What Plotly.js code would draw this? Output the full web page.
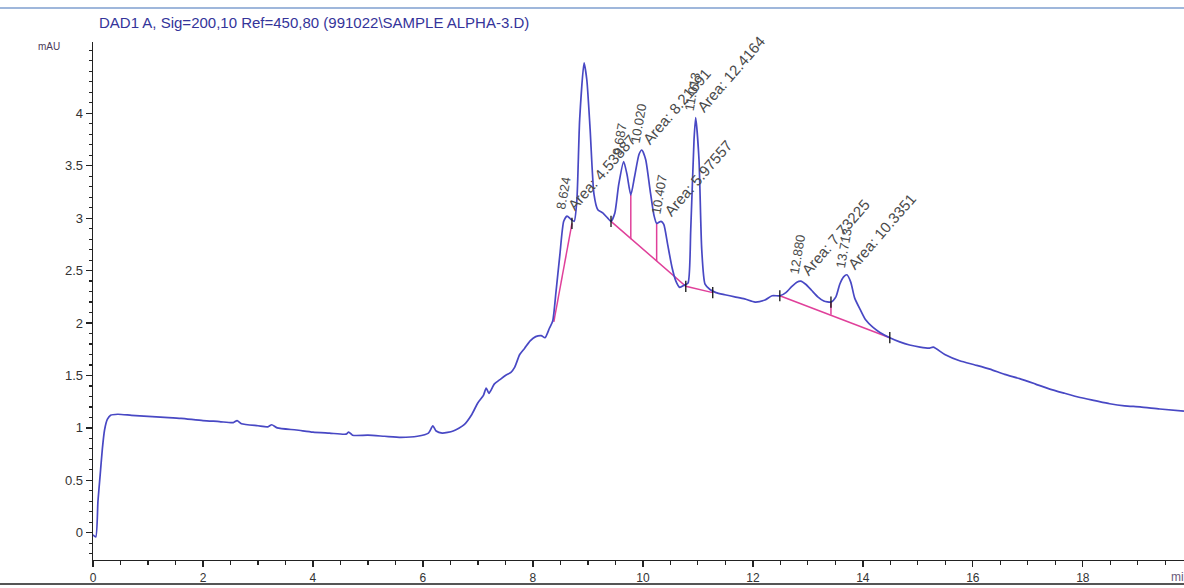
<!DOCTYPE html>
<html>
<head>
<meta charset="utf-8">
<script src="https://cdn.plot.ly/plotly-3.0.1.min.js"></script>
<style>
  html, body { margin: 0; padding: 0; background: #fff; }
  #chart { width: 1184px; height: 588px; }
</style>
</head>
<body>
<div id="chart"></div>
<script>
// ---- signal (retention time, min / absorbance, mAU) ----
const rt = [0, 0.05, 0.09, 0.13, 0.17, 0.21, 0.26, 0.32, 0.45, 0.7, 1.0, 1.3, 1.6, 2.0, 2.3, 2.55, 2.62, 2.7, 3.0, 3.18, 3.25, 3.35, 3.7, 4.0, 4.3, 4.6, 4.65, 4.72, 5.0, 5.3, 5.6, 5.9, 6.1, 6.18, 6.24, 6.35, 6.55, 6.75, 6.88, 7.0, 7.1, 7.15, 7.2, 7.3, 7.4, 7.5, 7.6, 7.67, 7.76, 7.85, 7.95, 8.05, 8.15, 8.22, 8.3, 8.36, 8.42, 8.49, 8.56, 8.62, 8.69, 8.75, 8.80, 8.85, 8.93, 8.98, 9.04, 9.11, 9.18, 9.27, 9.36, 9.42, 9.49, 9.56, 9.65, 9.71, 9.78, 9.85, 9.93, 9.98, 10.05, 10.13, 10.20, 10.25, 10.33, 10.38, 10.45, 10.53, 10.60, 10.67, 10.75, 10.82, 10.87, 10.93, 10.96, 11.02, 11.07, 11.13, 11.22, 11.33, 11.49, 11.67, 11.85, 12.04, 12.22, 12.35, 12.49, 12.60, 12.71, 12.80, 12.87, 12.96, 13.07, 13.18, 13.29, 13.42, 13.51, 13.58, 13.65, 13.71, 13.78, 13.85, 13.95, 14.05, 14.18, 14.31, 14.49, 14.67, 14.85, 15.04, 15.2, 15.28, 15.49, 15.76, 16.04, 16.31, 16.58, 16.85, 17.13, 17.4, 17.67, 17.95, 18.22, 18.49, 18.76, 19.04, 19.4, 19.84];
const mAU = [-0.02, -0.04, 0.30, 0.55, 0.80, 0.98, 1.08, 1.12, 1.13, 1.12, 1.11, 1.10, 1.09, 1.07, 1.06, 1.05, 1.07, 1.04, 1.02, 1.01, 1.03, 1.00, 0.98, 0.96, 0.95, 0.94, 0.96, 0.93, 0.93, 0.92, 0.91, 0.92, 0.95, 1.02, 0.97, 0.95, 0.97, 1.03, 1.12, 1.24, 1.31, 1.38, 1.33, 1.42, 1.46, 1.50, 1.53, 1.58, 1.70, 1.76, 1.83, 1.87, 1.88, 1.86, 1.95, 2.02, 2.30, 2.65, 2.97, 3.02, 2.99, 2.97, 3.18, 3.94, 4.48, 4.32, 3.85, 3.23, 3.08, 3.05, 3.00, 2.97, 3.05, 3.32, 3.54, 3.42, 3.22, 3.40, 3.61, 3.65, 3.56, 3.27, 3.03, 2.95, 2.97, 2.94, 2.75, 2.53, 2.40, 2.34, 2.36, 2.38, 2.89, 3.75, 3.96, 3.56, 2.70, 2.37, 2.32, 2.29, 2.27, 2.25, 2.23, 2.20, 2.22, 2.26, 2.26, 2.29, 2.35, 2.39, 2.40, 2.37, 2.31, 2.25, 2.21, 2.20, 2.25, 2.37, 2.44, 2.46, 2.39, 2.24, 2.13, 2.03, 1.96, 1.91, 1.86, 1.82, 1.79, 1.77, 1.76, 1.77, 1.70, 1.64, 1.60, 1.56, 1.51, 1.47, 1.42, 1.37, 1.33, 1.29, 1.26, 1.23, 1.21, 1.20, 1.18, 1.16];

// ---- integration baselines (null separates segments) ----
const baseRT  = [8.38, 8.71, null, 9.42, 10.78, 11.27, null, 12.49, 14.49];
const baseMAU = [2.01, 2.95, null, 2.97, 2.35, 2.29, null, 2.26, 1.86];
// drop lines: [rt, baseline value, signal value]
const dropRT   = [9.78, 10.25, 13.42];
const dropLow  = [2.80, 2.59, 2.08];
const dropHigh = [3.22, 2.95, 2.20];
// integration event ticks
const tickRT  = [8.71, 9.42, 10.78, 11.27, 12.49, 13.42, 14.49];
const tickMAU = [2.95, 2.97, 2.35, 2.29, 2.26, 2.20, 1.86];

// ---- peak labels ----
const peakRT    = [8.62, 9.65, 9.98, 10.36, 10.96, 12.87, 13.71];
const peakTop   = [3.02, 3.54, 3.65, 2.97, 3.96, 2.40, 2.46];
const peakNames = ["8.624", "9.687", "10.020", "10.407", "11.013", "12.880", "13.713"];
const peakAreas = ["Area: 4.53887", "", "Area: 8.21691", "Area: 5.97557", "Area: 12.4164", "Area: 7.73225", "Area: 10.3351"];

// ---- axis ticks ----
const yTicks = [0, 0.5, 1, 1.5, 2, 2.5, 3, 3.5, 4];
const xTicks = [0, 2, 4, 6, 8, 10, 12, 14, 16, 18];

const FONT = "Liberation Sans, Arial, sans-serif";
const ctx = document.createElement("canvas").getContext("2d");
function rotLabel(x, y, text, angDeg, sx, sy, size) {
  ctx.font = size + "px Liberation Sans";
  const L = ctx.measureText(text).width;
  const a = angDeg * Math.PI / 180;
  const h = size * 0.36;
  return {
    x: x, y: y, xref: "x", yref: "y", text: text, showarrow: false,
    textangle: -angDeg, xanchor: "center", yanchor: "middle",
    xshift: sx + (L / 2) * Math.cos(a) - h * Math.sin(a),
    yshift: sy + (L / 2) * Math.sin(a) + h * Math.cos(a),
    font: { family: FONT, size: size, color: "#4a4a4a" }
  };
}

const annotations = [];
for (let i = 0; i < peakRT.length; i++) {
  annotations.push(rotLabel(peakRT[i], peakTop[i], peakNames[i], 80, -2, 6, 13));
  if (peakAreas[i]) annotations.push(rotLabel(peakRT[i], peakTop[i], peakAreas[i], 49, 8, 4, 15));
}
annotations.push({
  xref: "paper", yref: "paper", x: 0.004, y: 1.0367, xanchor: "left", yanchor: "middle",
  text: "DAD1 A, Sig=200,10 Ref=450,80 (991022\\SAMPLE ALPHA-3.D)", showarrow: false,
  font: { family: FONT, size: 15, color: "#34349a" }
});
annotations.push({
  xref: "paper", yref: "y", x: -0.028, y: 4.64, xanchor: "right", yanchor: "middle",
  text: "mAU", showarrow: false, font: { family: FONT, size: 10, color: "#4a3a5a" }
});
annotations.push({
  xref: "paper", yref: "paper", x: 0.986, y: -0.033, xanchor: "left", yanchor: "middle",
  text: "min", showarrow: false, font: { family: FONT, size: 12, color: "#6a5a7a" }
});

const dropX = [], dropY = [];
for (let i = 0; i < dropRT.length; i++) {
  dropX.push(dropRT[i], dropRT[i], null);
  dropY.push(dropLow[i], dropHigh[i], null);
}

const traces = [
  { x: baseRT, y: baseMAU, mode: "lines", line: { color: "#e0409a", width: 1.5 }, hoverinfo: "skip" },
  { x: dropX, y: dropY, mode: "lines", line: { color: "#e0409a", width: 1.5 }, hoverinfo: "skip" },
  { x: rt, y: mAU, mode: "lines", line: { color: "#4848c4", width: 1.7, shape: "spline", smoothing: 0.6 } },
  { x: tickRT, y: tickMAU, mode: "markers", marker: { symbol: "line-ns-open", size: 8, color: "#111", line: { color: "#111", width: 1.3 } }, hoverinfo: "skip" }
];

const layout = {
  width: 1184, height: 588,
  margin: { l: 93, r: 0, t: 42, b: 28, autoexpand: false },
  paper_bgcolor: "#fff", plot_bgcolor: "#fff",
  showlegend: false,
  xaxis: {
    range: [0, 19.84], tickvals: xTicks, ticks: "outside", ticklen: 6, tickwidth: 1.3, tickcolor: "#222",
    showline: true, linecolor: "#222", linewidth: 1.3, showgrid: false, zeroline: false,
    tickfont: { family: FONT, size: 12, color: "#333" },
    minor: { dtick: 0.5, tick0: 0, ticks: "outside", ticklen: 4, tickcolor: "#222", tickwidth: 1.2, showgrid: false }
  },
  yaxis: {
    range: [-0.26, 4.68], tickvals: yTicks, ticks: "outside", ticklen: 6, tickwidth: 1.3, tickcolor: "#222",
    showline: true, linecolor: "#222", linewidth: 1.3, showgrid: false, zeroline: false,
    tickfont: { family: FONT, size: 13, color: "#333" },
    minor: { dtick: 0.1, tick0: 0, ticks: "outside", ticklen: 3, tickcolor: "#222", tickwidth: 1.2, showgrid: false }
  },
  annotations: annotations,
  shapes: [
    { type: "line", xref: "paper", yref: "paper", x0: -0.0853, x1: 1.0, y0: 1.0656, y1: 1.0656, line: { color: "#7f9fcf", width: 1.5 } },
    { type: "line", xref: "paper", yref: "paper", x0: -0.0853, x1: 1.0, y0: -0.0463, y1: -0.0463, line: { color: "#555", width: 2 } }
  ]
};

Plotly.newPlot("chart", traces, layout, { displayModeBar: false, staticPlot: true });
</script>
</body>
</html>
